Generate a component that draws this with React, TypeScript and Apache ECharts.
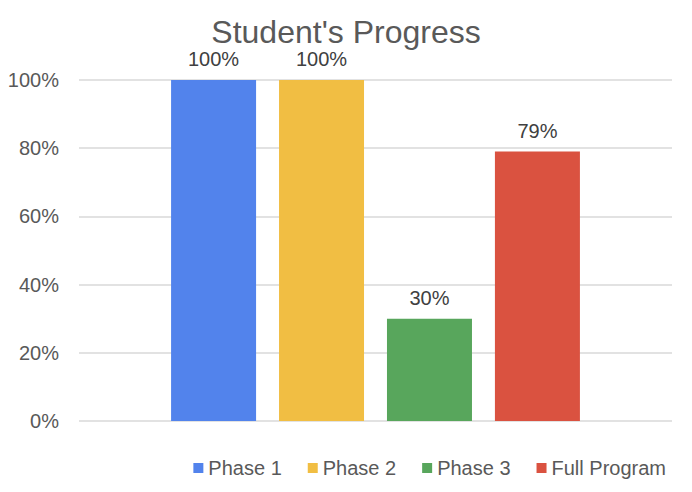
import { useEffect, useRef } from "react";
import * as echarts from "echarts";

const seriesNames = ["Phase 1", "Phase 2", "Phase 3", "Full Program"];
const seriesValues = [100, 100, 30, 79];
const seriesColors = ["#5283EC", "#F1BE43", "#58A65C", "#DA5240"];
const categories = [""];

const FONT = '"Liberation Sans", Arial, sans-serif';

export default function App() {
  const chartRef = useRef<HTMLDivElement>(null);

  useEffect(() => {
    if (!chartRef.current) return;
    const chart = echarts.init(chartRef.current, undefined, { renderer: "svg" });

    const option: echarts.EChartsOption = {
      animation: false,
      backgroundColor: "#ffffff",
      textStyle: { fontFamily: FONT },
      title: {
        text: "Student's Progress",
        left: "center",
        top: 11,
        textStyle: {
          fontFamily: FONT,
          fontSize: 32,
          fontWeight: "normal",
          color: "#595959",
        },
      },
      legend: {
        data: seriesNames,
        right: 21,
        top: 453,
        icon: "rect",
        itemWidth: 10,
        itemHeight: 10,
        itemGap: 26,
        textStyle: {
          fontFamily: FONT,
          fontSize: 20,
          color: "#595959",
        },
      },
      grid: {
        left: 79,
        right: 20,
        top: 80,
        bottom: 71,
      },
      xAxis: {
        type: "category",
        data: categories,
        axisLine: { show: false },
        axisTick: { show: false },
        axisLabel: { show: false },
      },
      yAxis: {
        type: "value",
        min: 0,
        max: 100,
        interval: 20,
        axisLine: { show: false },
        axisTick: { show: false },
        axisLabel: {
          formatter: "{value}%",
          fontFamily: FONT,
          fontSize: 20,
          color: "#595959",
          margin: 20,
        },
        splitLine: {
          lineStyle: { color: "#D9D9D9", width: 1.5 },
        },
      },
      series: seriesNames.map((name, i) => ({
        name,
        type: "bar" as const,
        data: [seriesValues[i]],
        barWidth: 85,
        barGap: "27%",
        itemStyle: { color: seriesColors[i] },
        label: {
          show: true,
          position: "top" as const,
          distance: 11,
          formatter: "{c}%",
          fontFamily: FONT,
          fontSize: 20,
          color: "#404040",
        },
      })),
    };

    chart.setOption(option);

    return () => {
      chart.dispose();
    };
  }, []);

  return (
    <div
      ref={chartRef}
      style={{ position: "absolute", left: 0, top: 0, width: 692, height: 492 }}
    />
  );
}
